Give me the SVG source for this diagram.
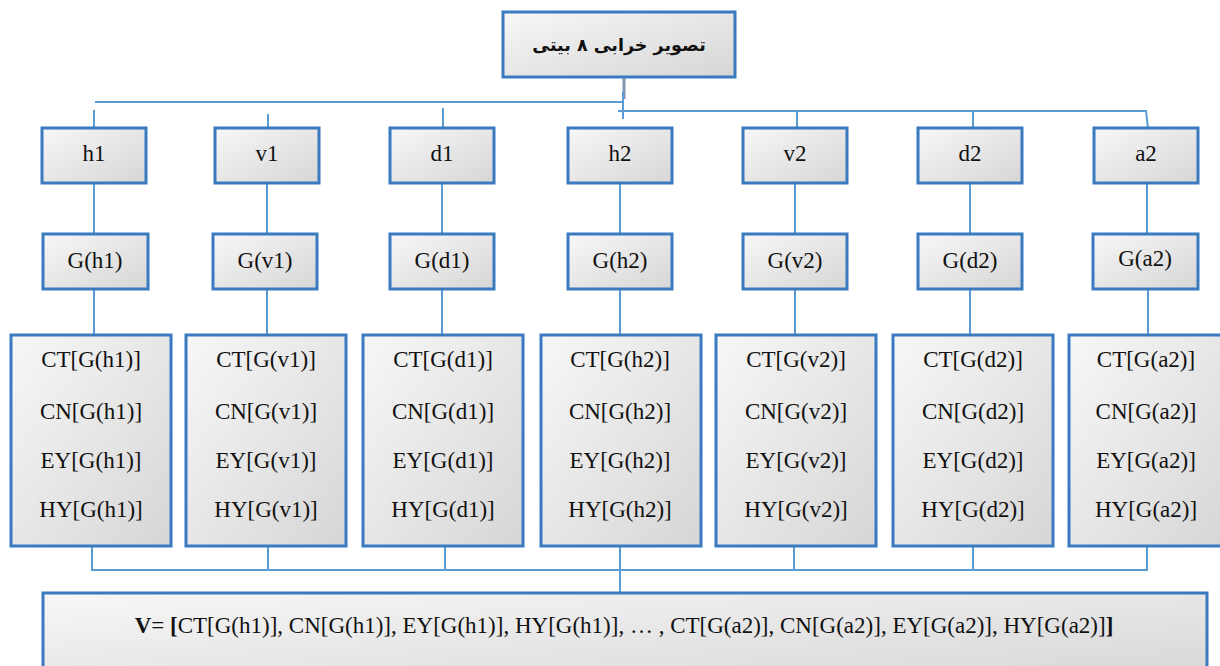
<svg xmlns="http://www.w3.org/2000/svg" width="1220" height="666" viewBox="0 0 1220 666">
<defs>
<linearGradient id="g" x1="0" y1="0" x2="1" y2="1">
<stop offset="0" stop-color="#f7f7f7"/>
<stop offset="1" stop-color="#d6d6d6"/>
</linearGradient>
<style>
.box{fill:url(#g);stroke:#3a7abf;stroke-width:3}
.c{fill:none;stroke:#5b9bd5;stroke-width:2}
.t{font-family:"Liberation Serif","Times New Roman",serif;font-size:23px;fill:#111;text-anchor:middle}
.b{font-family:"Liberation Serif","Times New Roman",serif;font-size:23px;fill:#111;text-anchor:middle}
.fa{font-family:"DejaVu Sans","Noto Sans",sans-serif;font-size:17.5px;font-weight:bold;fill:#111;text-anchor:middle}
</style>
</defs>
<rect width="1220" height="666" fill="#fff"/>
<g id="connectors">
<line x1="624" y1="77" x2="624" y2="99" stroke="#8497b0" stroke-width="3"/>
<polyline class="c" points="95,102 624,102"/>
<polyline class="c" points="623,92 623,119"/>
<polyline class="c" points="618,111 1146,111 1148,128"/>
<line class="c" x1="94" y1="110" x2="94" y2="130"/>
<line class="c" x1="268" y1="114" x2="268" y2="128"/>
<line class="c" x1="443" y1="108" x2="443" y2="128"/>
<line class="c" x1="797" y1="111" x2="797" y2="128"/>
<line class="c" x1="973" y1="111" x2="973" y2="128"/>
<line class="c" x1="94" y1="183" x2="94" y2="234"/><line class="c" x1="94" y1="289" x2="94" y2="335"/>
<line class="c" x1="267" y1="183" x2="267" y2="234"/><line class="c" x1="267" y1="289" x2="267" y2="335"/>
<line class="c" x1="442" y1="183" x2="442" y2="234"/><line class="c" x1="442" y1="289" x2="442" y2="335"/>
<line class="c" x1="620" y1="183" x2="620" y2="234"/><line class="c" x1="620" y1="289" x2="620" y2="335"/>
<line class="c" x1="795" y1="183" x2="795" y2="234"/><line class="c" x1="795" y1="289" x2="795" y2="335"/>
<line class="c" x1="970" y1="183" x2="970" y2="234"/><line class="c" x1="970" y1="289" x2="970" y2="335"/>
<line class="c" x1="1147" y1="183" x2="1147" y2="234"/><line class="c" x1="1148" y1="289" x2="1148" y2="335"/>
<polyline class="c" points="92,546 92,570 1147,570 1147,546"/>
<line class="c" x1="268" y1="546" x2="268" y2="570"/>
<line class="c" x1="445" y1="546" x2="445" y2="570"/>
<line class="c" x1="620" y1="546" x2="620" y2="592"/>
<line class="c" x1="794" y1="546" x2="794" y2="570"/>
<line class="c" x1="973" y1="546" x2="973" y2="570"/>
</g>
<g id="top"><rect class="box" x="503" y="12" width="232" height="65"/><text class="fa" x="619" y="51" direction="rtl">تصویر خرابی ۸ بیتی</text></g>
<g id="h1"><rect class="box" x="42" y="128" width="104" height="55"/><text class="t" x="94" y="161">h1</text></g>
<g id="v1"><rect class="box" x="215" y="128" width="104" height="55"/><text class="t" x="267" y="161">v1</text></g>
<g id="d1"><rect class="box" x="390" y="128" width="104" height="55"/><text class="t" x="442" y="161">d1</text></g>
<g id="h2"><rect class="box" x="568" y="128" width="104" height="55"/><text class="t" x="620" y="161">h2</text></g>
<g id="v2"><rect class="box" x="743" y="128" width="104" height="55"/><text class="t" x="795" y="161">v2</text></g>
<g id="d2"><rect class="box" x="918" y="128" width="104" height="55"/><text class="t" x="970" y="161">d2</text></g>
<g id="a2"><rect class="box" x="1094" y="128" width="104" height="55"/><text class="t" x="1146" y="161">a2</text></g>
<g id="Gh1"><rect class="box" x="43" y="234" width="105" height="55"/><text class="t" x="95" y="268">G(h1)</text></g>
<g id="Gv1"><rect class="box" x="213" y="234" width="104" height="55"/><text class="t" x="265" y="268">G(v1)</text></g>
<g id="Gd1"><rect class="box" x="390" y="234" width="104" height="55"/><text class="t" x="442" y="268">G(d1)</text></g>
<g id="Gh2"><rect class="box" x="568" y="234" width="104" height="55"/><text class="t" x="620" y="268">G(h2)</text></g>
<g id="Gv2"><rect class="box" x="743" y="234" width="104" height="55"/><text class="t" x="795" y="268">G(v2)</text></g>
<g id="Gd2"><rect class="box" x="918" y="234" width="104" height="55"/><text class="t" x="970" y="268">G(d2)</text></g>
<g id="Ga2"><rect class="box" x="1093" y="234" width="105" height="55"/><text class="t" x="1145" y="266">G(a2)</text></g>
<g id="Fh1"><rect class="box" x="11" y="335" width="160" height="211"/><text class="t" x="91" y="367">CT[G(h1)]</text><text class="t" x="91" y="419">CN[G(h1)]</text><text class="t" x="91" y="468">EY[G(h1)]</text><text class="t" x="91" y="517">HY[G(h1)]</text></g>
<g id="Fv1"><rect class="box" x="186" y="335" width="160" height="211"/><text class="t" x="266" y="367">CT[G(v1)]</text><text class="t" x="266" y="419">CN[G(v1)]</text><text class="t" x="266" y="468">EY[G(v1)]</text><text class="t" x="266" y="517">HY[G(v1)]</text></g>
<g id="Fd1"><rect class="box" x="363" y="335" width="160" height="211"/><text class="t" x="443" y="367">CT[G(d1)]</text><text class="t" x="443" y="419">CN[G(d1)]</text><text class="t" x="443" y="468">EY[G(d1)]</text><text class="t" x="443" y="517">HY[G(d1)]</text></g>
<g id="Fh2"><rect class="box" x="541" y="335" width="160" height="211"/><text class="t" x="620" y="367">CT[G(h2)]</text><text class="t" x="620" y="419">CN[G(h2)]</text><text class="t" x="620" y="468">EY[G(h2)]</text><text class="t" x="620" y="517">HY[G(h2)]</text></g>
<g id="Fv2"><rect class="box" x="716" y="335" width="160" height="211"/><text class="t" x="796" y="367">CT[G(v2)]</text><text class="t" x="796" y="419">CN[G(v2)]</text><text class="t" x="796" y="468">EY[G(v2)]</text><text class="t" x="796" y="517">HY[G(v2)]</text></g>
<g id="Fd2"><rect class="box" x="893" y="335" width="160" height="211"/><text class="t" x="973" y="367">CT[G(d2)]</text><text class="t" x="973" y="419">CN[G(d2)]</text><text class="t" x="973" y="468">EY[G(d2)]</text><text class="t" x="973" y="517">HY[G(d2)]</text></g>
<g id="Fa2"><rect class="box" x="1069" y="335" width="160" height="211"/><text class="t" x="1146" y="367">CT[G(a2)]</text><text class="t" x="1146" y="419">CN[G(a2)]</text><text class="t" x="1146" y="468">EY[G(a2)]</text><text class="t" x="1146" y="517">HY[G(a2)]</text></g>
<g id="V"><rect class="box" x="43" y="593" width="1164" height="90"/><text class="b" x="624" y="633"><tspan font-weight="bold">V</tspan>= <tspan font-weight="bold">[</tspan>CT[G(h1)], CN[G(h1)], EY[G(h1)], HY[G(h1)], … , CT[G(a2)], CN[G(a2)], EY[G(a2)], HY[G(a2)]<tspan font-weight="bold">]</tspan></text></g>
</svg>
